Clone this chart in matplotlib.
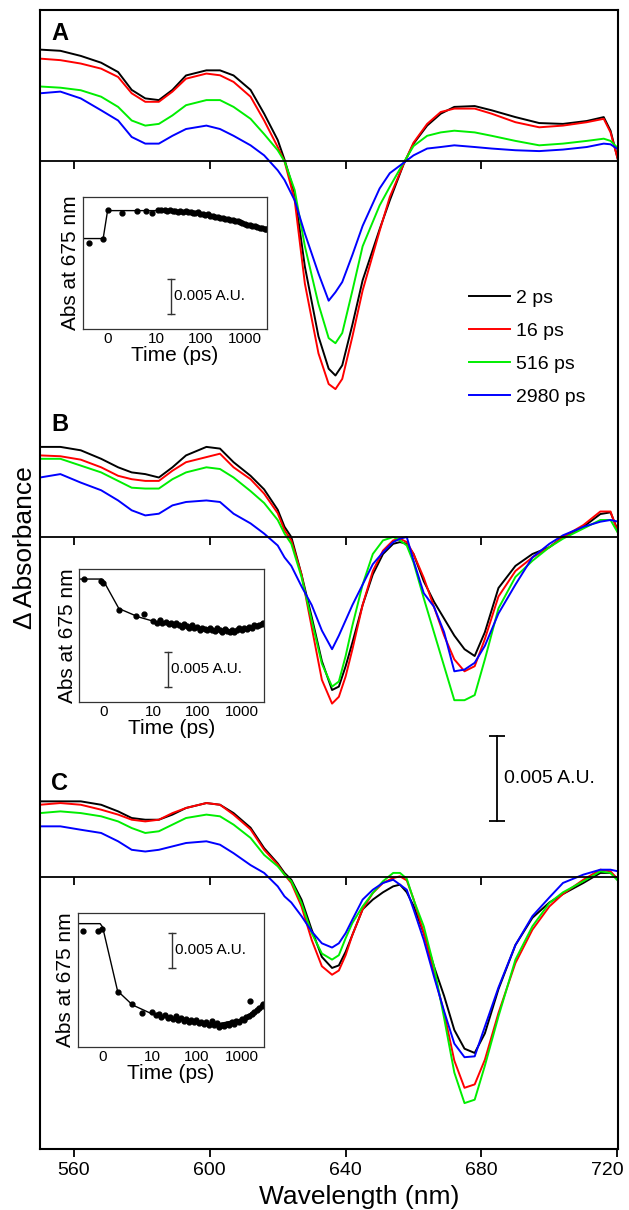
import numpy as np
import matplotlib.pyplot as plt
import matplotlib.transforms as mtransforms

plt.rcParams['font.family'] = ['Liberation Sans', 'DejaVu Sans']

# ---- spectra (delta A in units of 1e-3) ----
labels = ['2 ps', '16 ps', '516 ps', '2980 ps']
colors = ['black', 'red', '#00ee00', 'blue']

wl_a = [550, 556, 562, 568, 573, 577, 581, 585, 589, 593, 599, 603, 607, 612, 616, 620, 622, 625, 628,
        632, 635, 637, 639, 642, 645, 650, 653, 657, 660, 664, 668, 672, 678, 683, 690, 697, 704, 711,
        716, 718, 720.3]
k_a = [6.57, 6.5, 6.2, 5.8, 5.25, 4.2, 3.7, 3.6, 4.2, 5.05, 5.35, 5.35, 5.05, 4.2, 2.8, 1.25, 0.1, -1.9,
       -6.2, -10.3, -12.2, -12.6, -12.0, -9.6, -7.0, -4.0, -2.3, -0.2, 1.04, 2.1, 2.8, 3.2, 3.25, 3.0, 2.6,
       2.25, 2.2, 2.37, 2.6, 1.8, 0.0]
r_a = [6.04, 5.95, 5.75, 5.45, 4.96, 4.0, 3.5, 3.5, 4.1, 4.86, 5.16, 5.06, 4.67, 3.8, 2.4, 0.84, 0.0, -2.3,
       -7.2, -11.3, -13.1, -13.4, -12.8, -10.3, -7.6, -4.1, -2.1, -0.2, 1.1, 2.2, 2.9, 3.1, 3.1, 2.8, 2.3,
       2.0, 2.1, 2.3, 2.5, 1.7, 0.0]
g_a = [4.4, 4.33, 4.18, 3.8, 3.2, 2.4, 2.1, 2.2, 2.7, 3.3, 3.6, 3.6, 3.2, 2.5, 1.6, 0.65, 0.0, -1.7, -5.0,
       -8.4, -10.4, -10.7, -10.1, -7.6, -5.0, -2.6, -1.5, -0.1, 0.9, 1.5, 1.7, 1.8, 1.7, 1.5, 1.2, 0.94,
       1.04, 1.2, 1.33, 1.2, 0.75]
b_a = [4.0, 4.1, 3.7, 3.0, 2.4, 1.43, 1.04, 1.04, 1.5, 1.9, 2.1, 1.9, 1.5, 0.94, 0.35, -0.53, -1.1, -2.3,
       -4.25, -6.6, -8.2, -7.7, -7.1, -5.5, -3.8, -1.6, -0.7, -0.1, 0.35, 0.75, 0.84, 0.94, 0.84, 0.75,
       0.65, 0.6, 0.69, 0.84, 1.04, 1.0, 0.69]

wl_bc = [550, 556, 562, 568, 573, 577, 581, 585, 589, 593, 599, 603, 607, 612, 616, 620, 622, 624, 627,
         630, 633, 636, 638, 640, 642, 645, 648, 651, 654, 656, 658, 660, 663, 666, 669, 672, 675, 678,
         681, 685, 690, 695, 700, 704, 710, 715, 718, 720.3]
k_b = [5.3, 5.3, 5.1, 4.6, 4.1, 3.8, 3.7, 3.5, 4.1, 4.8, 5.3, 5.2, 4.4, 3.6, 2.8, 1.6, 0.6, 0.0, -2.2,
       -4.7, -7.3, -9.0, -8.8, -7.6, -6.2, -4.0, -2.2, -1.0, -0.4, -0.3, -0.4, -1.0, -2.6, -3.8, -4.8,
       -5.8, -6.6, -7.0, -5.6, -3.0, -1.7, -1.0, -0.6, 0.0, 0.6, 1.35, 1.45, 0.3]
r_b = [4.8, 4.75, 4.55, 4.1, 3.6, 3.4, 3.3, 3.3, 3.9, 4.4, 4.7, 4.9, 4.1, 3.4, 2.55, 1.4, 0.4, -0.2, -2.2,
       -5.3, -8.4, -9.8, -9.4, -8.2, -6.6, -4.0, -2.0, -0.8, -0.2, -0.1, -0.3, -1.0, -2.4, -4.1, -5.8,
       -7.2, -7.9, -7.6, -6.0, -3.5, -2.0, -1.2, -0.6, 0.0, 0.7, 1.5, 1.5, 0.2]
g_b = [4.6, 4.6, 4.2, 3.8, 3.3, 2.9, 2.85, 2.85, 3.4, 3.8, 4.1, 4.0, 3.5, 2.7, 2.0, 1.0, 0.2, -0.4, -2.35,
       -4.9, -7.45, -8.8, -8.5, -7.0, -5.2, -2.8, -1.0, -0.2, 0.0, -0.2, -0.5, -1.5, -3.6, -5.6, -7.6,
       -9.6, -9.6, -9.3, -7.2, -4.2, -2.35, -1.4, -0.6, -0.1, 0.5, 1.0, 1.0, 0.2]
b_b = [3.5, 3.7, 3.2, 2.75, 2.15, 1.57, 1.27, 1.37, 1.86, 2.06, 2.15, 2.06, 1.37, 0.8, 0.2, -0.5, -1.2,
       -1.7, -2.9, -4.0, -5.5, -6.6, -5.8, -4.9, -4.0, -2.8, -1.6, -0.9, -0.3, -0.1, 0.0, -1.4, -3.3,
       -4.1, -5.6, -7.9, -7.8, -7.4, -6.4, -4.5, -2.8, -1.2, -0.4, 0.1, 0.6, 0.9, 1.0, 0.9]

k_c = [4.45, 4.45, 4.45, 4.25, 3.86, 3.47, 3.37, 3.37, 3.67, 4.06, 4.35, 4.25, 3.76, 2.9, 1.7, 0.8, 0.24,
       -0.16, -1.33, -3.1, -4.7, -5.35, -5.2, -4.4, -3.4, -1.9, -1.33, -0.9, -0.55, -0.45, -0.9, -1.7,
       -3.3, -5.25, -7.0, -9.0, -10.1, -10.35, -9.2, -6.6, -4.0, -2.4, -1.5, -1.0, -0.35, 0.24, 0.24, -0.16]
r_c = [4.25, 4.35, 4.25, 3.96, 3.67, 3.37, 3.27, 3.37, 3.76, 4.06, 4.35, 4.25, 3.67, 2.8, 1.6, 0.73, 0.14,
       -0.35, -1.73, -3.7, -5.25, -5.75, -5.5, -4.6, -3.4, -1.9, -0.94, -0.35, -0.06, 0.04, -0.2, -1.3,
       -3.3, -5.65, -8.0, -10.8, -12.4, -12.2, -10.75, -8.0, -5.06, -3.1, -1.73, -1.0, -0.16, 0.43, 0.33,
       -0.16]
g_c = [3.76, 3.86, 3.76, 3.57, 3.27, 2.88, 2.59, 2.69, 3.08, 3.47, 3.67, 3.57, 3.08, 2.3, 1.3, 0.63, 0.14,
       -0.25, -1.53, -3.3, -4.5, -4.86, -4.6, -3.6, -2.7, -1.73, -0.94, -0.25, 0.24, 0.24, -0.1, -1.33,
       -2.9, -5.25, -8.3, -11.5, -13.3, -13.1, -11.1, -8.2, -4.86, -2.9, -1.53, -0.9, -0.25, 0.33, 0.24,
       -0.25]
b_c = [2.98, 2.98, 2.78, 2.59, 2.1, 1.6, 1.5, 1.6, 1.8, 2.0, 2.1, 1.9, 1.4, 0.7, 0.24, -0.55, -1.14, -1.5,
       -2.3, -3.2, -3.9, -4.15, -3.9, -3.3, -2.5, -1.33, -0.75, -0.35, -0.16, -0.45, -0.75, -1.9, -3.7,
       -5.85, -7.9, -9.8, -10.6, -10.55, -8.8, -6.5, -4.0, -2.3, -1.2, -0.35, 0.14, 0.43, 0.43, 0.33]

# vertical offset of each panel and height of its letter above the zero line
panels = [('A', wl_a, [k_a, r_a, g_a, b_a], 0.0, 7.5),
          ('B', wl_bc, [k_b, r_b, g_b, b_b], -22.1, 6.6),
          ('C', wl_bc, [k_c, r_c, g_c, b_c], -42.1, 5.5)]

# ---- kinetics at 675 nm (insets) ----
t_a = [-3.8, -0.9, 0, 2.9, 5.9, 7.8, 9, 10.5, 12.8, 15, 17, 20, 23, 26, 30, 34, 39, 45, 51, 58, 66, 75,
       85, 97, 110, 125, 142, 162, 185, 210, 240, 272, 310, 353, 400, 455, 520, 590, 670, 760, 865, 985,
       1120, 1270, 1450, 1650, 1880, 2140, 2430, 2760, 3000]
v_a = [-0.6, 0.0, 4.05, 3.7, 3.95, 3.95, 3.6, 4.05, 4.15, 4.1, 4.0, 4.05, 3.9, 4.0, 3.85, 3.95, 3.8, 3.9,
       3.75, 3.85, 3.7, 3.6, 3.75, 3.55, 3.5, 3.4, 3.45, 3.25, 3.3, 3.1, 3.15, 2.95, 2.9, 2.8, 2.85, 2.65,
       2.7, 2.5, 2.45, 2.35, 2.2, 2.1, 2.0, 1.95, 1.8, 1.75, 1.6, 1.5, 1.45, 1.35, 1.3]
fit_ta = [-5, -0.9, 0, 10, 30, 100, 300, 1000, 3100]
fit_va = [0, 0, 4.0, 4.0, 3.85, 3.55, 2.9, 2.05, 1.3]

t_b = [-4, -0.6, -0.2, 3, 6.5, 8, 10, 12, 14, 16, 19, 22, 25, 29, 33, 38, 44, 50, 57, 65, 74, 84, 96,
       110, 125, 142, 162, 185, 210, 240, 272, 310, 353, 400, 455, 520, 590, 670, 760, 865, 985, 1120,
       1270, 1450, 1650, 1880, 2140, 2430, 2760, 3000]
v_b = [0, -0.3, -0.5, -4.4, -5.3, -5.0, -6.0, -6.2, -5.9, -6.3, -6.1, -6.4, -6.2, -6.6, -6.3, -6.5, -6.8,
       -6.4, -6.7, -6.9, -6.6, -7.0, -6.8, -7.2, -6.9, -7.1, -7.3, -6.9, -7.2, -7.4, -7.0, -7.3, -7.5,
       -7.1, -7.4, -7.6, -7.2, -7.5, -7.3, -7.0, -7.3, -6.9, -7.1, -6.8, -6.9, -6.6, -6.7, -6.5, -6.4, -6.2]
fit_tb = [-5, -0.5, 0, 3, 7, 10, 30, 100, 500, 1500, 3100]
fit_vb = [0, 0, -0.4, -4.2, -5.4, -6.0, -6.6, -7.0, -7.3, -7.0, -6.3]

t_c = [-4, -1, -0.2, 3, 6, 8, 10, 12, 14, 16, 19, 22, 25, 29, 33, 38, 44, 50, 57, 65, 74, 84, 96, 110,
       125, 142, 162, 185, 210, 240, 272, 310, 353, 400, 455, 520, 590, 670, 760, 865, 985, 1120, 1270,
       1450, 1550, 1650, 1880, 2140, 2430, 2760, 3000]
v_c = [-1.1, -1.05, -0.7, -9.8, -11.5, -12.7, -12.6, -13.1, -12.9, -13.3, -13.1, -13.5, -13.3, -13.6,
       -13.2, -13.8, -13.5, -13.9, -13.6, -14.0, -13.8, -14.1, -13.7, -14.2, -14.0, -14.3, -14.1, -14.4,
       -13.9, -14.5, -14.2, -14.8, -14.4, -14.6, -14.3, -14.5, -14.1, -14.3, -13.9, -14.0, -13.6, -13.7,
       -13.3, -13.2, -11.0, -12.9, -12.6, -12.3, -12.0, -11.7, -11.4]
fit_tc = [-5, -0.5, 0, 3, 6, 10, 30, 100, 300, 1000, 3100]
fit_vc = [0, 0, -0.5, -9.6, -11.6, -12.9, -13.6, -14.0, -14.3, -13.6, -11.6]

xticks = [560, 600, 640, 680, 720]

fig = plt.figure(figsize=(6.29, 12.10), dpi=100)
ax = fig.add_axes([40 / 629, 1 - 1149 / 1210, 578 / 629, 1139 / 1210])

for name, wl, curves, off, lab_y in panels:
    for vals, col, lab in zip(curves, colors, labels):
        ax.plot(wl, np.array(vals) + off, color=col, lw=1.4, label=lab if name == 'A' else None)
    ax.axhline(off, color='black', lw=1.3)
    ax.vlines(xticks[:-1], off - 0.45, off, color='black', lw=1.3)
    ax.text(553.3, off + lab_y, name, fontsize=17, fontweight='bold', va='center', ha='left')

ax.set_xlim(550, 720.2)
ax.set_ylim(-58.1, 8.9)
ax.set_xticks(xticks)
ax.set_yticks([])
ax.tick_params(axis='x', direction='out', length=6, width=1.3, labelsize=14)
# last label is pulled in so it stays inside the figure
shift = mtransforms.ScaledTranslation(-10 / 100, 0, fig.dpi_scale_trans)
last = ax.get_xticklabels()[-1]
last.set_transform(last.get_transform() + shift)
for s in ax.spines.values():
    s.set_linewidth(1.5)
ax.set_xlabel('Wavelength (nm)', fontsize=19)
ax.xaxis.set_label_coords(0.552, -0.032)
ax.set_ylabel('Δ Absorbance', fontsize=19)
ax.yaxis.set_label_coords(-0.006, 0.528)

# main scale bar
ax.plot([684.5, 684.5], [-38.8, -33.8], color='black', lw=1.3)
ax.plot([684.5, 684.5], [-38.8, -33.8], '_', color='black', ms=12, mew=1.3)
ax.text(686.5, -36.3, '0.005 A.U.', fontsize=14, va='center')

ax.legend(loc='upper left', bbox_to_anchor=(676.3, -7.55), bbox_transform=ax.transData,
          frameon=False, fontsize=14, handlelength=2.1, handletextpad=0.3, labelspacing=0.78,
          borderpad=0, borderaxespad=0)


def inset(rect, t, v, ft, fv, ylim, bar_t, bar_y, txt_t, txt_y):
    ins = fig.add_axes(rect)
    ins.set_xscale('symlog', linthresh=10, linscale=1)
    ins.plot(ft, fv, color='black', lw=1)
    ins.plot(t, v, 'o', color='black', ms=3.5)
    ins.plot([bar_t, bar_t], bar_y, color='#333333', lw=1)
    ins.plot([bar_t, bar_t], bar_y, '_', color='#333333', ms=6, mew=1)
    ins.text(txt_t, txt_y, '0.005 A.U.', fontsize=11, va='center')
    ins.set_xlim(-5, 3100)
    ins.set_ylim(ylim)
    ins.set_xticks([0, 10, 100, 1000])
    ins.set_xticklabels(['0', '10', '100', '1000'])
    ins.xaxis.set_minor_locator(plt.NullLocator())
    ins.set_yticks([])
    ins.tick_params(axis='x', length=0, labelsize=11, pad=2)
    ins.set_xlabel('Time (ps)', fontsize=15, labelpad=0)
    ins.set_ylabel('Abs at 675 nm', fontsize=15, labelpad=2)
    for s in ins.spines.values():
        s.set_linewidth(0.9)
        s.set_color('#333333')


inset([83 / 629, 1 - 329 / 1210, 184 / 629, 132 / 1210], t_a, v_a, fit_ta, fit_va,
      (-12.95, 5.95), 21, [-10.86, -5.86], 25, -8.2)
inset([79.4 / 629, 1 - 702 / 1210, 184.6 / 629, 133 / 1210], t_b, v_b, fit_tb, fit_vb,
      (-17.5, 1.43), 21, [-15.4, -10.4], 25, -12.8)
inset([77.8 / 629, 1 - 1047 / 1210, 186 / 629, 134 / 1210], t_c, v_c, fit_tc, fit_vc,
      (-17.6, 1.52), 27, [-6.33, -1.29], 32, -3.8)

fig.savefig('out.png', dpi=100)
